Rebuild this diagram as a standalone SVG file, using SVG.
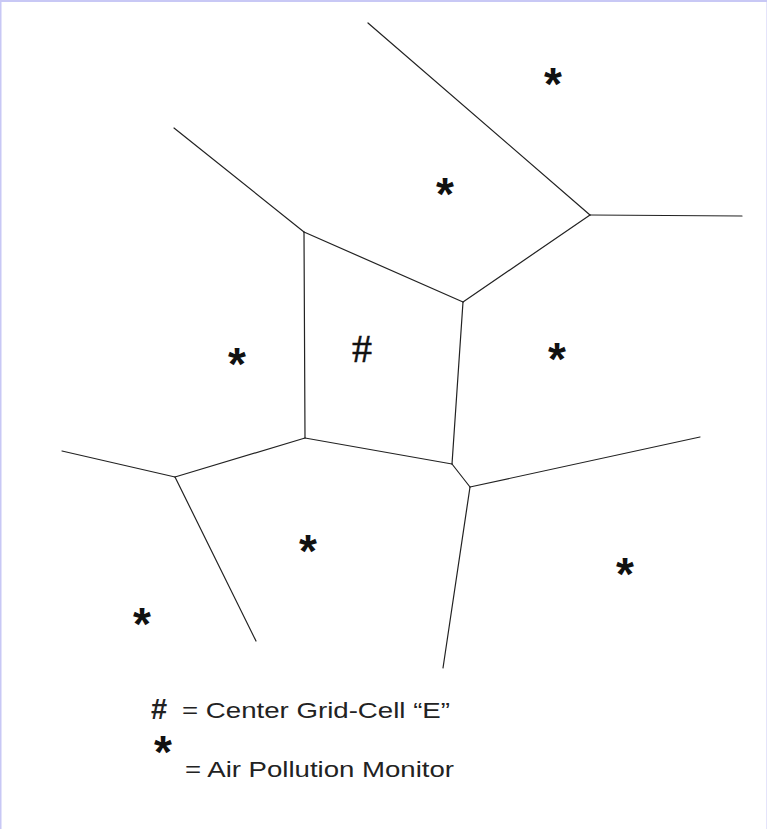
<svg xmlns="http://www.w3.org/2000/svg" width="767" height="829" viewBox="0 0 767 829">
<style>
.edge{stroke:#222;stroke-width:1.2;fill:none;stroke-linecap:round}
.ast{font-family:"Liberation Sans",Arial,sans-serif;font-size:46px;font-weight:bold;fill:#111;text-anchor:middle}
.lbl{font-family:"Liberation Sans",Arial,sans-serif;font-size:22px;fill:#222}
</style>
<rect x="0" y="0" width="767" height="829" fill="#fff"/>
<rect x="0.5" y="1" width="767" height="829" fill="none" stroke="#c8c8f5" stroke-width="2"/>
<g id="connectors">
<line class="edge" x1="368" y1="23" x2="590" y2="215"/>
<line class="edge" x1="590" y1="215" x2="742" y2="216"/>
<line class="edge" x1="590" y1="215" x2="463" y2="302"/>
<line class="edge" x1="174" y1="128" x2="304" y2="232"/>
<line class="edge" x1="304" y1="232" x2="463" y2="302"/>
<line class="edge" x1="304" y1="232" x2="305" y2="438"/>
<line class="edge" x1="463" y1="302" x2="452" y2="464"/>
<line class="edge" x1="305" y1="438" x2="452" y2="464"/>
<line class="edge" x1="452" y1="464" x2="470" y2="487"/>
<line class="edge" x1="470" y1="487" x2="700" y2="437"/>
<line class="edge" x1="470" y1="487" x2="443" y2="668"/>
<line class="edge" x1="305" y1="438" x2="175" y2="477"/>
<line class="edge" x1="62" y1="451" x2="175" y2="477"/>
<line class="edge" x1="175" y1="477" x2="256" y2="641"/>
</g>
<g id="monitor-1"><text class="ast" x="553" y="100">*</text></g>
<g id="monitor-2"><text class="ast" x="445" y="210">*</text></g>
<g id="monitor-3"><text class="ast" x="237" y="380">*</text></g>
<g id="monitor-4"><text class="ast" x="557" y="375">*</text></g>
<g id="monitor-5"><text class="ast" x="308" y="567">*</text></g>
<g id="monitor-6"><text class="ast" x="625" y="590">*</text></g>
<g id="monitor-7"><text class="ast" x="142" y="640">*</text></g>
<g id="center-cell-E"><text x="362" y="362" font-family="'Liberation Serif',serif" font-size="40" fill="#111" text-anchor="middle" stroke="#111" stroke-width="0.5">#</text></g>
<g id="legend">
<text x="151" y="719" font-family="'Liberation Sans',Arial,sans-serif" font-size="29" font-weight="bold" fill="#222">#</text>
<text class="lbl" x="182" y="718" textLength="268" lengthAdjust="spacingAndGlyphs">= Center Grid-Cell “E”</text>
<text class="ast" x="163" y="768">*</text>
<text class="lbl" x="185" y="777" textLength="269" lengthAdjust="spacingAndGlyphs">= Air Pollution Monitor</text>
</g>
</svg>
